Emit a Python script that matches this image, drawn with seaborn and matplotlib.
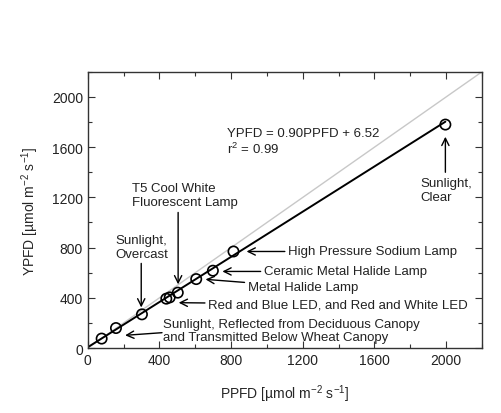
import numpy as np
import pandas as pd
import matplotlib
matplotlib.use("Agg")
import matplotlib.pyplot as plt
import seaborn as sns

# data
ppfd = [77, 157, 302, 438, 457, 502, 605, 698, 813, 1996]
ypfd = [75, 159, 268, 393, 403, 441, 549, 616, 769, 1780]
slope, intercept = 0.90, 6.52
fit_x = [0, 1996]
one_to_one = [0, 2200]

df = pd.DataFrame({"PPFD": ppfd, "YPFD": ypfd})
fit = pd.DataFrame({"PPFD": fit_x, "YPFD": [slope * v + intercept for v in fit_x]})
diag = pd.DataFrame({"PPFD": one_to_one, "YPFD": one_to_one})

sns.set_style("ticks")
plt.rcParams["font.family"] = ["Liberation Sans", "DejaVu Sans"]
plt.rcParams["mathtext.fontset"] = "custom"
plt.rcParams["mathtext.rm"] = "Liberation Sans"
plt.rcParams["mathtext.it"] = "Liberation Sans:italic"
plt.rcParams["text.color"] = "#222222"

fig = plt.figure(figsize=(5.02, 4.14), dpi=100)
ax = fig.add_axes([0.175, 0.157, 0.785, 0.667])

sns.lineplot(data=diag, x="PPFD", y="YPFD", color="#c8c8c8", lw=1.0, ax=ax)
sns.lineplot(data=fit, x="PPFD", y="YPFD", color="black", lw=1.4, ax=ax)
sns.scatterplot(data=df, x="PPFD", y="YPFD", s=55, facecolor="none",
                edgecolor="black", linewidth=1.2, ax=ax, zorder=5)

ax.set_xlim(0, 2200)
ax.set_ylim(0, 2200)
ax.set_xticks([0, 400, 800, 1200, 1600, 2000])
ax.set_yticks([0, 400, 800, 1200, 1600, 2000])
ax.set_xticks(np.arange(0, 2201, 200), minor=True)
ax.set_yticks(np.arange(0, 2201, 200), minor=True)
ax.tick_params(which="both", direction="in", top=True, right=True,
               labelsize=10, colors="#333333", labelcolor="#222222", width=0.8)
ax.tick_params(which="major", length=5)
ax.tick_params(which="minor", length=3)
for s in ax.spines.values():
    s.set_linewidth(1.0)
    s.set_color("#333333")

ax.set_xlabel("PPFD [µmol m$^{-2}$ s$^{-1}$]", fontsize=10, labelpad=11)
ax.set_ylabel("YPFD [µmol m$^{-2}$ s$^{-1}$]", fontsize=10, labelpad=8)

fs = 9.5
arrow = dict(arrowstyle="->", color="black", lw=1.0, shrinkA=0, shrinkB=0,
             mutation_scale=13)

ax.text(775, 1760, "YPFD = 0.90PPFD + 6.52\nr$^2$ = 0.99", fontsize=fs,
        va="top", ha="left", linespacing=1.15)

ax.text(1854, 1360, "Sunlight,\nClear", fontsize=fs, va="top", ha="left",
        linespacing=1.2)
ax.annotate("", xy=(1996, 1683), xytext=(1996, 1400), arrowprops=arrow)

ax.text(247, 1320, "T5 Cool White\nFluorescent Lamp", fontsize=fs,
        va="top", ha="left", linespacing=1.2)
ax.annotate("", xy=(504, 507), xytext=(504, 1080), arrowprops=arrow)

ax.text(152, 905, "Sunlight,\nOvercast", fontsize=fs, va="top", ha="left",
        linespacing=1.2)
ax.annotate("", xy=(298, 323), xytext=(298, 674), arrowprops=arrow)

ax.annotate("High Pressure Sodium Lamp", xy=(886, 769), xytext=(1118, 769),
            fontsize=fs, va="center", ha="left", arrowprops=arrow)
ax.annotate("Ceramic Metal Halide Lamp", xy=(751, 610), xytext=(983, 610),
            fontsize=fs, va="center", ha="left", arrowprops=arrow)
ax.annotate("Metal Halide Lamp", xy=(657, 547), xytext=(893, 486),
            fontsize=fs, va="center", ha="left", arrowprops=arrow)
ax.annotate("Red and Blue LED, and Red and White LED", xy=(507, 361),
            xytext=(672, 348), fontsize=fs, va="center", ha="left",
            arrowprops=arrow)
ax.annotate("", xy=(208, 101), xytext=(414, 122), arrowprops=arrow)
ax.text(419, 136, "Sunlight, Reflected from Deciduous Canopy\nand Transmitted Below Wheat Canopy",
        fontsize=fs, va="center", ha="left", linespacing=1.1)

fig.savefig("out.png", dpi=100, facecolor="white")
